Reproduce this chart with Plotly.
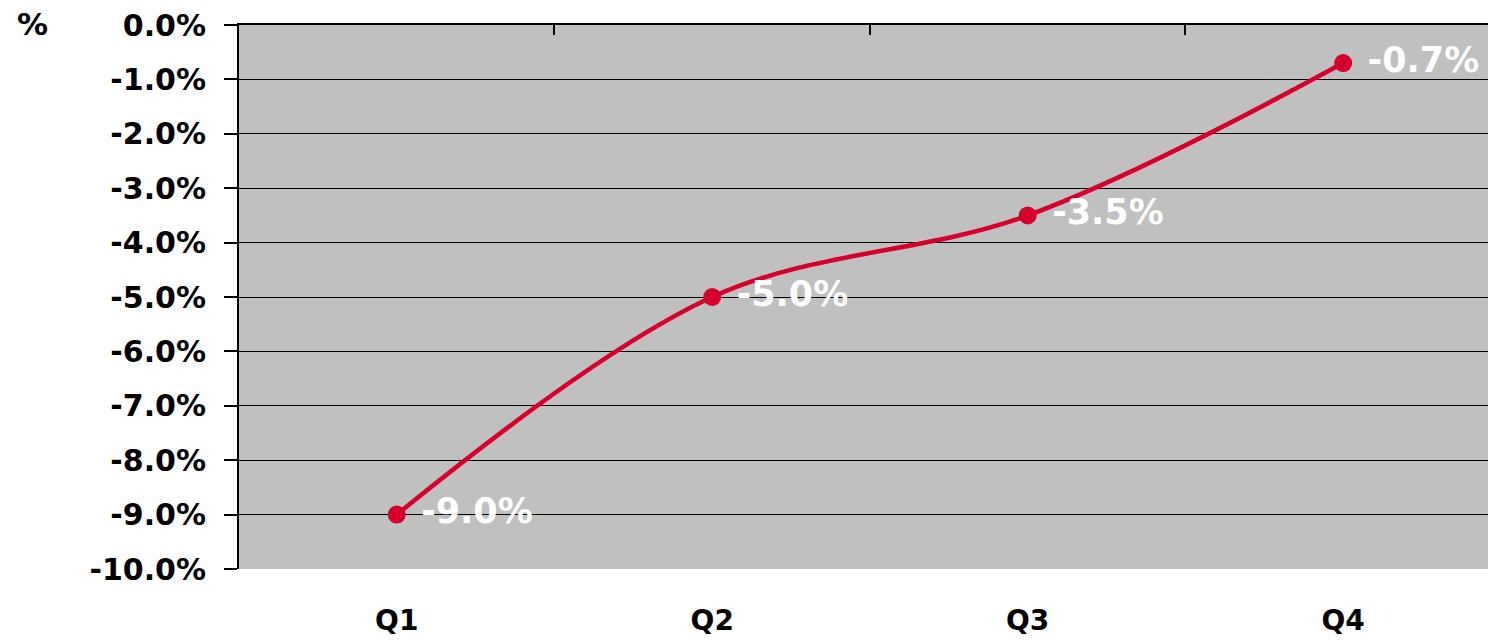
import plotly.graph_objects as go

# Quarterly change, per cent
quarters = ["Q1", "Q2", "Q3", "Q4"]
growth = [-9.0, -5.0, -3.5, -0.7]
point_labels = ["-9.0%", "-5.0%", "-3.5%", "-0.7%"]

# Value axis ticks
y_tick_vals = [0, -1, -2, -3, -4, -5, -6, -7, -8, -9, -10]
y_tick_text = ["0.0%", "-1.0%", "-2.0%", "-3.0%", "-4.0%", "-5.0%",
               "-6.0%", "-7.0%", "-8.0%", "-9.0%", "-10.0%"]

RED = "#d5002b"
FONT = "DejaVu Sans"
X_RANGE = [-0.5, 3.459]

fig = go.Figure()
fig.add_trace(go.Scatter(
    x=quarters,
    y=growth,
    mode="lines+markers+text",
    line=dict(color=RED, width=4.5, shape="spline", smoothing=1),
    marker=dict(size=18, color=RED),
    text=point_labels,
    texttemplate=" %{text}",
    textposition="middle right",
    textfont=dict(family=FONT, size=35, color="white", weight="bold"),
    cliponaxis=False,
    showlegend=False,
))
# empty trace so the top category-boundary axis is rendered
fig.add_trace(go.Scatter(x=[], y=[], xaxis="x2", showlegend=False, hoverinfo="skip"))

fig.update_layout(
    width=1488,
    height=642,
    margin=dict(l=239, r=0, t=25, b=73),
    paper_bgcolor="white",
    plot_bgcolor="#c0c0c0",
    xaxis=dict(
        type="category",
        range=X_RANGE,
        automargin=False,
        showgrid=False,
        zeroline=False,
        showline=False,
        ticks="",
        tickfont=dict(family=FONT, size=28, color="black", weight="bold"),
        ticklabelstandoff=32,
    ),
    xaxis2=dict(
        overlaying="x",
        anchor="y",
        side="top",
        range=X_RANGE,
        automargin=False,
        tickvals=[0.5, 1.5, 2.5],
        ticks="inside",
        ticklen=10,
        tickwidth=2,
        tickcolor="black",
        showticklabels=False,
        showline=True,
        linecolor="black",
        linewidth=2,
        showgrid=False,
        zeroline=False,
    ),
    yaxis=dict(
        range=[-10, 0],
        automargin=False,
        tickvals=y_tick_vals,
        ticktext=y_tick_text,
        showgrid=True,
        gridcolor="black",
        gridwidth=1.3,
        zeroline=False,
        showline=True,
        linecolor="black",
        linewidth=2,
        ticks="outside",
        ticklen=13,
        tickwidth=1.5,
        tickcolor="black",
        tickfont=dict(family=FONT, size=30, color="black", weight="bold"),
        ticklabelstandoff=12,
    ),
    annotations=[dict(
        text="%",
        xref="paper", yref="paper",
        x=(32 - 239) / 1249, y=(569 - 24) / 544,
        xanchor="center", yanchor="middle",
        showarrow=False,
        font=dict(family=FONT, size=31, color="black", weight="bold"),
    )],
)

fig.write_html("out.html")
